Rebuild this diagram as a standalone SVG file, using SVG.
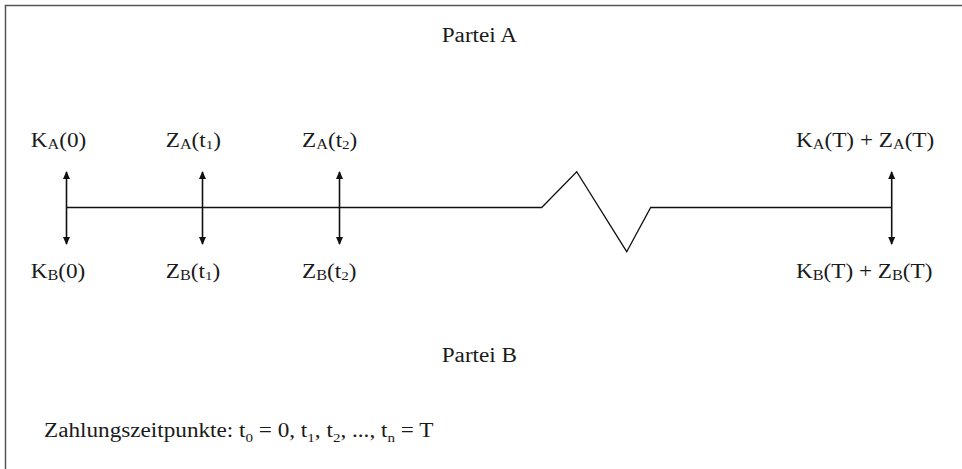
<svg xmlns="http://www.w3.org/2000/svg" width="962" height="469" viewBox="0 0 962 469">
<style>
text{font-family:"Liberation Serif","Times New Roman",serif;font-size:20px;fill:#1a1a1a}
.s{font-size:14px}
.d{font-size:13px}
.ln{fill:none;stroke:#111;stroke-width:1.3}
.ar{fill:none;stroke:#111;stroke-width:1.6}
</style>
<defs>
<marker id="ah" viewBox="0 0 8 7" refX="7" refY="3.5" markerWidth="8" markerHeight="7" orient="auto-start-reverse" markerUnits="userSpaceOnUse">
<path d="M0,0 L8,3.5 L0,7 z" fill="#111"/>
</marker>
</defs>
<rect width="962" height="469" fill="#fff"/>
<path d="M5.5,469 V5.5 H962" fill="none" stroke="#555" stroke-width="1.5"/>
<g id="connectors">
<path class="ln" d="M66.5,207.5 H541.7 L576.7,171.7 L626.7,251.7 L650.7,207.5 H891.7"/>
<line class="ar" x1="66.5" y1="172" x2="66.5" y2="244" marker-start="url(#ah)" marker-end="url(#ah)"/>
<line class="ar" x1="202.5" y1="172" x2="202.5" y2="244" marker-start="url(#ah)" marker-end="url(#ah)"/>
<line class="ar" x1="339.5" y1="172" x2="339.5" y2="244" marker-start="url(#ah)" marker-end="url(#ah)"/>
<line class="ar" x1="891.7" y1="172" x2="891.7" y2="244" marker-start="url(#ah)" marker-end="url(#ah)"/>
</g>
<g id="parteiA"><text transform="translate(441.7,41.7) scale(1.16,1)">Partei A</text></g>
<g id="parteiB"><text transform="translate(441.7,361.7) scale(1.16,1)">Partei B</text></g>
<g id="t0">
<text transform="translate(30.7,146.7) scale(1.16,1)">K<tspan class="s" dy="2">A</tspan><tspan dy="-2">(0)</tspan></text>
<text transform="translate(30.7,278) scale(1.16,1)">K<tspan class="s" dy="2">B</tspan><tspan dy="-2">(0)</tspan></text>
</g>
<g id="t1">
<text transform="translate(165.7,146.7) scale(1.16,1)">Z<tspan class="s" dy="2">A</tspan><tspan dy="-2">(t</tspan><tspan class="d" dy="2">1</tspan><tspan dy="-2">)</tspan></text>
<text transform="translate(165.7,278) scale(1.16,1)">Z<tspan class="s" dy="2">B</tspan><tspan dy="-2">(t</tspan><tspan class="d" dy="2">1</tspan><tspan dy="-2">)</tspan></text>
</g>
<g id="t2">
<text transform="translate(302,146.7) scale(1.16,1)">Z<tspan class="s" dy="2">A</tspan><tspan dy="-2">(t</tspan><tspan class="d" dy="2">2</tspan><tspan dy="-2">)</tspan></text>
<text transform="translate(302,278) scale(1.16,1)">Z<tspan class="s" dy="2">B</tspan><tspan dy="-2">(t</tspan><tspan class="d" dy="2">2</tspan><tspan dy="-2">)</tspan></text>
</g>
<g id="tT">
<text transform="translate(796,146.7) scale(1.16,1)">K<tspan class="s" dy="2">A</tspan><tspan dy="-2">(T) + Z</tspan><tspan class="s" dy="2">A</tspan><tspan dy="-2">(T)</tspan></text>
<text transform="translate(796,278) scale(1.16,1)">K<tspan class="s" dy="2">B</tspan><tspan dy="-2">(T) + Z</tspan><tspan class="s" dy="2">B</tspan><tspan dy="-2">(T)</tspan></text>
</g>
<g id="legend">
<text transform="translate(44,437.3) scale(1.16,1)">Zahlungszeitpunkte: t<tspan class="d" dy="5">0</tspan><tspan dy="-5"> = 0, t</tspan><tspan class="d" dy="5">1</tspan><tspan dy="-5">, t</tspan><tspan class="d" dy="5">2</tspan><tspan dy="-5">, ..., t</tspan><tspan class="d" dy="5">n</tspan><tspan dy="-5"> = T</tspan></text>
</g>
</svg>
